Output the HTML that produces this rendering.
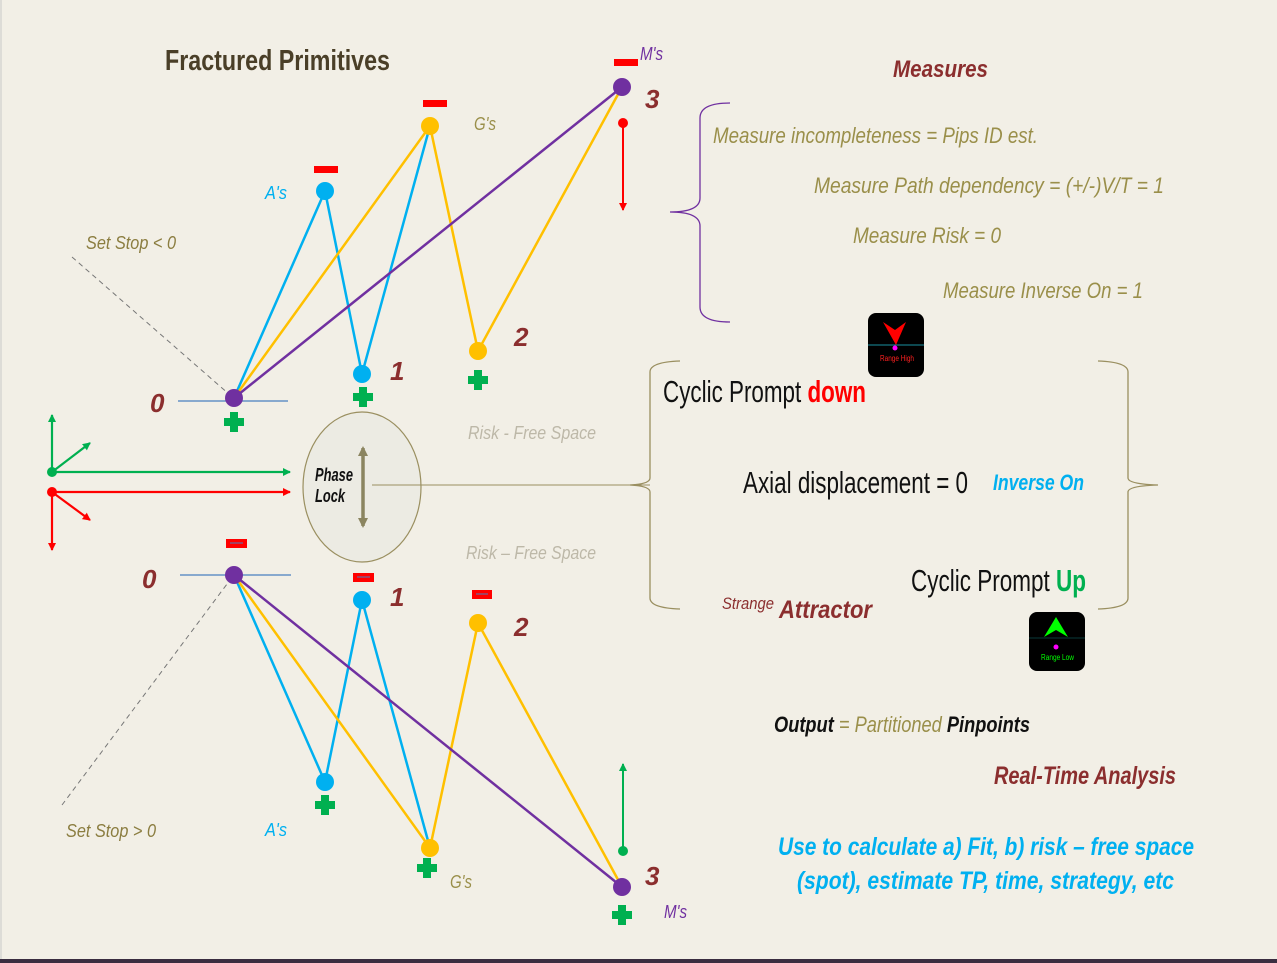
<!DOCTYPE html>
<html><head><meta charset="utf-8"><style>
html,body{margin:0;padding:0;background:#f2efe6;}
svg{display:block}
text{font-family:"Liberation Sans Narrow","Liberation Sans",sans-serif;}
.i{font-style:italic;}
</style></head><body>
<svg width="1277" height="963" viewBox="0 0 1277 963" xmlns="http://www.w3.org/2000/svg">
<defs>
<marker id="ag" markerWidth="8" markerHeight="8" refX="7" refY="4" orient="auto" markerUnits="userSpaceOnUse"><path d="M0,0 L8,4 L0,8z" fill="#00b050"/></marker>
<marker id="ar" markerWidth="8" markerHeight="8" refX="7" refY="4" orient="auto" markerUnits="userSpaceOnUse"><path d="M0,0 L8,4 L0,8z" fill="#ff0000"/></marker>
<marker id="ak" markerWidth="10" markerHeight="10" refX="8" refY="5" orient="auto" markerUnits="userSpaceOnUse"><path d="M0,0 L10,5 L0,10z" fill="#8b8560"/></marker>
</defs>
<rect width="1277" height="963" fill="#f2efe6"/>
<line x1="1" y1="0" x2="1" y2="960" stroke="#c8c8c8"/>
<rect x="0" y="959" width="1277" height="4" fill="#3a2d40"/>

<text x="165" y="70" font-size="29" font-weight="bold" fill="#4a3f28" textLength="225" lengthAdjust="spacingAndGlyphs">Fractured Primitives</text>

<line x1="72" y1="257" x2="230" y2="395" stroke="#777" stroke-dasharray="5,4"/>
<line x1="62" y1="805" x2="230" y2="580" stroke="#777" stroke-dasharray="5,4"/>
<line x1="178" y1="401" x2="288" y2="401" stroke="#4a7fc0" stroke-width="1.2"/>
<line x1="180" y1="575" x2="291" y2="575" stroke="#4a7fc0" stroke-width="1.2"/>

<g fill="none" stroke-width="2.5">
<polyline points="234,398 325,191 362,374 430,126" stroke="#00b0f0"/>
<polyline points="234,398 430,126 478,351 622,87" stroke="#ffc000"/>
<line x1="234" y1="398" x2="622" y2="87" stroke="#7030a0"/>
<polyline points="234,575 325,782 362,600 430,848" stroke="#00b0f0"/>
<polyline points="234,575 430,848 478,623 622,887" stroke="#ffc000"/>
<line x1="234" y1="575" x2="622" y2="887" stroke="#7030a0"/>
</g>
<g>
<circle cx="234" cy="398" r="9" fill="#7030a0"/><circle cx="325" cy="191" r="9" fill="#00b0f0"/>
<circle cx="362" cy="374" r="9" fill="#00b0f0"/><circle cx="430" cy="126" r="9" fill="#ffc000"/>
<circle cx="478" cy="351" r="9" fill="#ffc000"/><circle cx="622" cy="87" r="9" fill="#7030a0"/>
<circle cx="234" cy="575" r="9" fill="#7030a0"/><circle cx="362" cy="600" r="9" fill="#00b0f0"/>
<circle cx="478" cy="623" r="9" fill="#ffc000"/><circle cx="325" cy="782" r="9" fill="#00b0f0"/>
<circle cx="430" cy="848" r="9" fill="#ffc000"/><circle cx="622" cy="887" r="9" fill="#7030a0"/>
</g>
<g fill="#ff0000">
<rect x="314" y="166" width="24" height="7"/><rect x="423" y="100" width="24" height="7"/><rect x="614" y="59" width="24" height="7"/>
<rect x="226" y="539" width="21" height="9"/><rect x="353" y="573" width="21" height="9"/><rect x="472" y="590" width="20" height="9"/>
</g>
<g stroke="#4a7fc0" stroke-width="1"><line x1="230" y1="543" x2="243" y2="543"/><line x1="357" y1="577" x2="370" y2="577"/><line x1="476" y1="594" x2="488" y2="594"/></g>
<g fill="#00b050">
<path d="M-4,-10h8v6h6v8h-6v6h-8v-6h-6v-8h6z" transform="translate(234,422)"/>
<path d="M-4,-10h8v6h6v8h-6v6h-8v-6h-6v-8h6z" transform="translate(363,397)"/>
<path d="M-4,-10h8v6h6v8h-6v6h-8v-6h-6v-8h6z" transform="translate(478,380)"/>
<path d="M-4,-10h8v6h6v8h-6v6h-8v-6h-6v-8h6z" transform="translate(325,805)"/>
<path d="M-4,-10h8v6h6v8h-6v6h-8v-6h-6v-8h6z" transform="translate(427,868)"/>
<path d="M-4,-10h8v6h6v8h-6v6h-8v-6h-6v-8h6z" transform="translate(622,915)"/>
</g>

<circle cx="623" cy="123" r="5" fill="#ff0000"/><line x1="623" y1="123" x2="623" y2="210" stroke="#ff0000" stroke-width="2" marker-end="url(#ar)"/>
<circle cx="623" cy="851" r="5" fill="#00b050"/><line x1="623" y1="851" x2="623" y2="764" stroke="#00b050" stroke-width="2" marker-end="url(#ag)"/>

<g stroke-width="2.2">
<line x1="52" y1="472" x2="52" y2="415" stroke="#00b050" marker-end="url(#ag)"/>
<line x1="52" y1="472" x2="90" y2="443" stroke="#00b050" marker-end="url(#ag)"/>
<line x1="52" y1="472" x2="290" y2="472" stroke="#00b050" marker-end="url(#ag)"/>
<line x1="52" y1="492" x2="290" y2="492" stroke="#ff0000" marker-end="url(#ar)"/>
<line x1="52" y1="492" x2="90" y2="520" stroke="#ff0000" marker-end="url(#ar)"/>
<line x1="52" y1="492" x2="52" y2="550" stroke="#ff0000" marker-end="url(#ar)"/>
</g>
<circle cx="52" cy="472" r="5" fill="#00b050"/><circle cx="52" cy="492" r="5" fill="#ff0000"/>

<ellipse cx="362" cy="487" rx="59" ry="75" fill="#ecebe3" stroke="#9a8f60" stroke-width="1.2"/>
<line x1="372" y1="485" x2="650" y2="485" stroke="#9a8f60" stroke-width="1"/>
<line x1="363" y1="487" x2="363" y2="448" stroke="#8b8560" stroke-width="3.5" marker-end="url(#ak)"/>
<line x1="363" y1="487" x2="363" y2="526" stroke="#8b8560" stroke-width="3.5" marker-end="url(#ak)"/>
<text x="315" y="481" font-size="18" font-weight="bold" class="i" fill="#111" textLength="38" lengthAdjust="spacingAndGlyphs">Phase</text>
<text x="315" y="502" font-size="18" font-weight="bold" class="i" fill="#111" textLength="30" lengthAdjust="spacingAndGlyphs">Lock</text>

<g class="i" font-weight="bold" fill="#8b2e2e" font-size="26">
<text x="150" y="412">0</text><text x="142" y="588">0</text>
<text x="390" y="380">1</text><text x="390" y="606">1</text>
<text x="514" y="346">2</text><text x="514" y="636">2</text>
<text x="645" y="108">3</text><text x="645" y="885">3</text>
</g>
<g class="i" font-size="18">
<text x="265" y="199" fill="#00b0f0" textLength="22" lengthAdjust="spacingAndGlyphs">A's</text>
<text x="265" y="836" fill="#00b0f0" textLength="22" lengthAdjust="spacingAndGlyphs">A's</text>
<text x="474" y="130" fill="#9a8f4a" textLength="22" lengthAdjust="spacingAndGlyphs">G's</text>
<text x="450" y="888" fill="#9a8f4a" textLength="22" lengthAdjust="spacingAndGlyphs">G's</text>
<text x="640" y="60" fill="#7030a0" textLength="23" lengthAdjust="spacingAndGlyphs">M's</text>
<text x="664" y="918" fill="#7030a0" textLength="23" lengthAdjust="spacingAndGlyphs">M's</text>
<text x="86" y="249" fill="#8b7d40" textLength="90" lengthAdjust="spacingAndGlyphs">Set Stop &lt; 0</text>
<text x="66" y="837" fill="#8b7d40" textLength="90" lengthAdjust="spacingAndGlyphs">Set Stop &gt; 0</text>
<text x="468" y="439" fill="#bdb8a8" textLength="128" lengthAdjust="spacingAndGlyphs">Risk - Free Space</text>
<text x="466" y="559" fill="#bdb8a8" textLength="130" lengthAdjust="spacingAndGlyphs">Risk – Free Space</text>
</g>

<text x="893" y="77" class="i" font-weight="bold" font-size="24" fill="#8b2e2e" textLength="95" lengthAdjust="spacingAndGlyphs">Measures</text>
<g class="i" font-size="22" fill="#9a8f4a">
<text x="713" y="143" textLength="325" lengthAdjust="spacingAndGlyphs">Measure incompleteness = Pips ID est.</text>
<text x="814" y="193" textLength="350" lengthAdjust="spacingAndGlyphs">Measure Path dependency = (+/-)V/T = 1</text>
<text x="853" y="243" textLength="148" lengthAdjust="spacingAndGlyphs">Measure Risk = 0</text>
<text x="943" y="298" textLength="200" lengthAdjust="spacingAndGlyphs">Measure Inverse On = 1</text>
</g>
<path d="M730,103 Q700,103 700,118 L700,198 Q700,212 670,212 Q700,212 700,226 L700,307 Q700,322 730,322" fill="none" stroke="#7030a0" stroke-width="1.3"/>

<path d="M680,361 Q650,362 650,372 L650,478 Q650,484 630,485 Q650,486 650,492 L650,598 Q650,608 680,609" fill="none" stroke="#9a8f60" stroke-width="1.3"/>
<path d="M1098,361 Q1128,362 1128,372 L1128,478 Q1128,484 1158,485 Q1128,486 1128,492 L1128,598 Q1128,608 1098,609" fill="none" stroke="#9a8f60" stroke-width="1.3"/>

<text x="663" y="402" font-size="31" fill="#111" textLength="203" lengthAdjust="spacingAndGlyphs">Cyclic Prompt <tspan fill="#ff0000" font-weight="bold">down</tspan></text>
<text x="743" y="493" font-size="31" fill="#111" textLength="225" lengthAdjust="spacingAndGlyphs">Axial displacement = 0</text>
<text x="993" y="490" class="i" font-weight="bold" font-size="22" fill="#00b0f0" textLength="91" lengthAdjust="spacingAndGlyphs">Inverse On</text>
<text x="911" y="591" font-size="31" fill="#111" textLength="175" lengthAdjust="spacingAndGlyphs">Cyclic Prompt <tspan fill="#00b050" font-weight="bold">Up</tspan></text>
<text x="722" y="609" class="i" font-size="17" fill="#8b2e2e" textLength="52" lengthAdjust="spacingAndGlyphs">Strange</text>
<text x="779" y="618" class="i" font-weight="bold" font-size="25" fill="#8b2e2e" textLength="93" lengthAdjust="spacingAndGlyphs">Attractor</text>

<rect x="868" y="313" width="56" height="64" rx="8" fill="#000"/>
<line x1="868" y1="345" x2="924" y2="345" stroke="#1a8fa0"/>
<path d="M883,322 L896,345 L906,322 L895,330z" fill="#ff0000"/>
<circle cx="895" cy="348" r="2.5" fill="#ff00ff"/>
<text x="880" y="361" font-size="8" fill="#ff2020" textLength="34" lengthAdjust="spacingAndGlyphs">Range High</text>
<rect x="1029" y="612" width="56" height="59" rx="8" fill="#000"/>
<line x1="1029" y1="638" x2="1085" y2="638" stroke="#0a3a3a"/>
<path d="M1044,637 L1056,617 L1068,637 L1056,630z" fill="#00ff00"/>
<circle cx="1056" cy="647" r="2.5" fill="#ff00ff"/>
<text x="1041" y="660" font-size="8" fill="#00ff00" textLength="33" lengthAdjust="spacingAndGlyphs">Range Low</text>

<text x="774" y="732" class="i" font-size="22" fill="#111" textLength="256" lengthAdjust="spacingAndGlyphs"><tspan font-weight="bold">Output</tspan><tspan fill="#9a8f4a"> = Partitioned </tspan><tspan font-weight="bold">Pinpoints</tspan></text>
<text x="994" y="784" class="i" font-weight="bold" font-size="25" fill="#8b2e2e" textLength="182" lengthAdjust="spacingAndGlyphs">Real-Time Analysis</text>
<text x="778" y="855" class="i" font-weight="bold" font-size="25" fill="#00b0f0" textLength="416" lengthAdjust="spacingAndGlyphs">Use to calculate a) Fit,  b) risk – free space</text>
<text x="797" y="889" class="i" font-weight="bold" font-size="25" fill="#00b0f0" textLength="377" lengthAdjust="spacingAndGlyphs">(spot), estimate TP,  time, strategy, etc</text>
</svg>
</body></html>
